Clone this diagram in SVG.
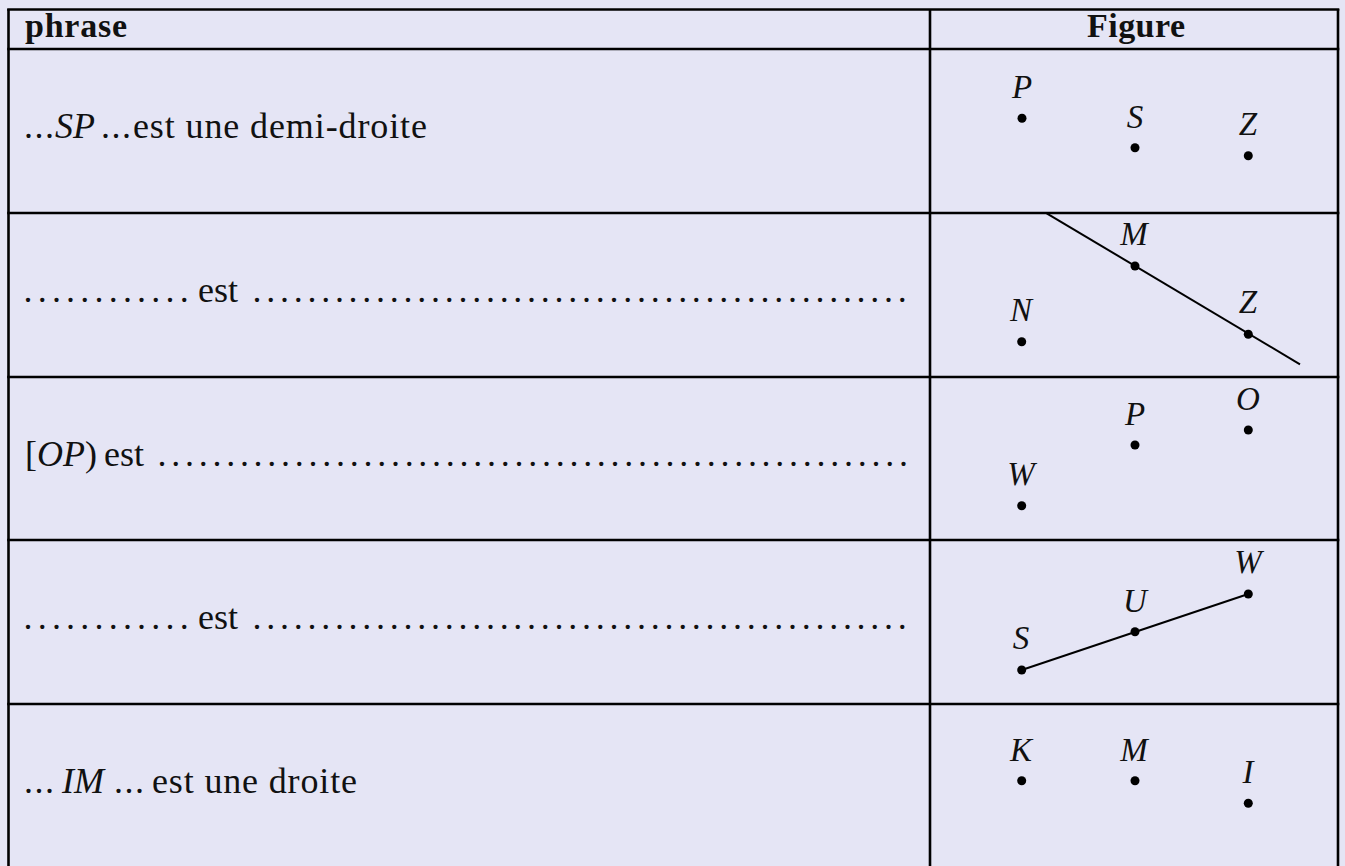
<svg xmlns="http://www.w3.org/2000/svg" width="1345" height="866" viewBox="0 0 1345 866">
<style>
.bg{fill:#E5E5F5}
.grid{stroke:#000;stroke-width:2.6;fill:none}
.t{font-family:"Liberation Serif","Times New Roman",serif;font-size:36px;fill:#111}
.h{font-family:"Liberation Serif","Times New Roman",serif;font-size:34px;font-weight:bold;fill:#111}
.i{font-style:italic}
.lbl{font-family:"Liberation Serif","Times New Roman",serif;font-size:33px;font-style:italic;fill:#111;text-anchor:middle}
.d3{letter-spacing:1.5px}
.dl1{letter-spacing:5.2px}
.dl2{letter-spacing:4.73px}
.pt{fill:#000}
.ln{stroke:#000;stroke-width:2;fill:none}
</style>
<rect class="bg" x="0" y="0" width="1345" height="866"/>
<g id="table">
<line class="grid" x1="8.5" y1="9" x2="8.5" y2="866"/>
<line class="grid" x1="1338" y1="9" x2="1338" y2="866"/>
<line class="grid" x1="930" y1="9" x2="930" y2="866"/>
<line class="grid" x1="7.2" y1="9.5" x2="1339.3" y2="9.5"/>
<line class="grid" x1="7.2" y1="49" x2="1339.3" y2="49"/>
<line class="grid" x1="7.2" y1="213" x2="1339.3" y2="213"/>
<line class="grid" x1="7.2" y1="377" x2="1339.3" y2="377"/>
<line class="grid" x1="7.2" y1="540" x2="1339.3" y2="540"/>
<line class="grid" x1="7.2" y1="704" x2="1339.3" y2="704"/>
</g>
<g id="header">
<text class="h" x="25" y="37" textLength="102" lengthAdjust="spacing">phrase</text>
<text class="h" x="1087" y="37" textLength="98" lengthAdjust="spacing">Figure</text>
</g>
<g id="connectors">
<line class="ln" x1="1046.7" y1="213.3" x2="1300" y2="364.3"/>
<line class="ln" x1="1021.7" y1="670" x2="1248.3" y2="594"/>
</g>
<g id="row1">
<text class="t d3" x="24" y="138">...</text>
<text class="t i" x="55" y="138">SP</text>
<text class="t d3" x="101" y="138">...</text>
<text class="t" x="133" y="138" textLength="294" lengthAdjust="spacing">est une demi-droite</text>
<circle class="pt" cx="1022" cy="118.3" r="4.5"/>
<text class="lbl" x="1022" y="97.5">P</text>
<circle class="pt" cx="1135" cy="147.7" r="4.5"/>
<text class="lbl" x="1135" y="127.5">S</text>
<circle class="pt" cx="1248.3" cy="155.7" r="4.5"/>
<text class="lbl" x="1248" y="135">Z</text>
</g>
<g id="row2">
<text class="t dl1" x="23.5" y="302">............</text>
<text class="t" x="198" y="302">est</text>
<text class="t dl2" x="252.5" y="302">................................................</text>
<circle class="pt" cx="1135" cy="266" r="4.5"/>
<text class="lbl" x="1134" y="245">M</text>
<circle class="pt" cx="1248.3" cy="334.3" r="4.5"/>
<text class="lbl" x="1248" y="313">Z</text>
<circle class="pt" cx="1021.7" cy="341.7" r="4.5"/>
<text class="lbl" x="1021" y="320.5">N</text>
</g>
<g id="row3">
<text class="t" x="25" y="466">[<tspan class="i">OP</tspan>)</text>
<text class="t" x="104" y="466">est</text>
<text class="t dl2" x="157.5" y="466">.......................................................</text>
<circle class="pt" cx="1135" cy="445" r="4.5"/>
<text class="lbl" x="1135" y="425">P</text>
<circle class="pt" cx="1248.3" cy="430" r="4.5"/>
<text class="lbl" x="1248" y="410">O</text>
<circle class="pt" cx="1021.7" cy="505.7" r="4.5"/>
<text class="lbl" x="1021" y="485">W</text>
</g>
<g id="row4">
<text class="t dl1" x="23.5" y="629">............</text>
<text class="t" x="198" y="629">est</text>
<text class="t dl2" x="252.5" y="629">................................................</text>
<circle class="pt" cx="1021.7" cy="670" r="4.5"/>
<text class="lbl" x="1021" y="649.3">S</text>
<circle class="pt" cx="1135" cy="631.7" r="4.5"/>
<text class="lbl" x="1135" y="611.5">U</text>
<circle class="pt" cx="1248.3" cy="594" r="4.5"/>
<text class="lbl" x="1248" y="573.3">W</text>
</g>
<g id="row5">
<text class="t d3" x="24" y="793">...</text>
<text class="t i" x="62" y="793">IM</text>
<text class="t d3" x="114" y="793">...</text>
<text class="t" x="152" y="793" textLength="205" lengthAdjust="spacing">est une droite</text>
<circle class="pt" cx="1021.7" cy="780.7" r="4.5"/>
<text class="lbl" x="1021" y="760.7">K</text>
<circle class="pt" cx="1135" cy="780.7" r="4.5"/>
<text class="lbl" x="1134" y="760.7">M</text>
<circle class="pt" cx="1248.3" cy="803.3" r="4.5"/>
<text class="lbl" x="1248" y="782.7">I</text>
</g>
</svg>
